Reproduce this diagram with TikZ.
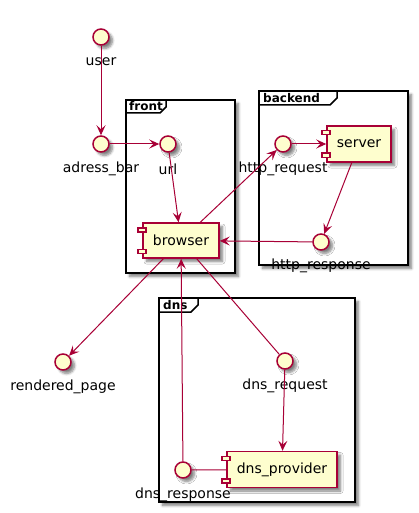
\documentclass[tikz,border=0pt]{standalone}
\usepackage{fontspec}
\setmainfont{DejaVu Sans}
\usetikzlibrary{arrows.meta,shadows,shadows.blur}
\definecolor{pBorder}{HTML}{A80036}
\definecolor{pFill}{HTML}{FEFECE}
\begin{document}
\begin{tikzpicture}[x=1pt,y=-1pt,
  font=\fontsize{14}{16}\selectfont,
  shd/.style={blur shadow={shadow xshift=3.5pt,shadow yshift=-3.5pt,shadow blur radius=2.5pt,shadow blur steps=6,shadow opacity=50}},
  iface/.style={circle,draw=pBorder,fill=pFill,line width=1.5pt,minimum size=16pt,inner sep=0pt,shd},
  comp/.style={rectangle,draw=pBorder,fill=pFill,line width=1.5pt,inner sep=0pt,minimum height=36pt,shd},
  comprect/.style={draw=pBorder,fill=pFill,line width=1.5pt},
  frm/.style={rectangle,draw=black,fill=white,line width=1.5pt,inner sep=0pt,outer sep=0pt,anchor=north west,shd},
  tabline/.style={draw=black,line width=1.5pt},
  ttl/.style={font=\bfseries\fontsize{12}{14}\selectfont,anchor=west,inner sep=0pt},
  lbl/.style={inner sep=0pt},
  edge/.style={draw=pBorder,line width=1pt},
  arr/.style={edge,-{Stealth[length=10pt,width=9pt,inset=4pt]}}
]
\useasboundingbox (0,0) rectangle (418,513);

% frames
\node[frm,minimum width=109pt,minimum height=173pt] (front) at (126,100) {};
\draw[tabline] ([yshift=-13pt]front.north west) -- ++(34,0) -- ++(6,-6) -- ++(0,-7);
\node[ttl] (frontT) at ([xshift=3pt,yshift=-6.5pt]front.north west) {front};

\node[frm,minimum width=149pt,minimum height=174pt] (backend) at (259,91) {};
\draw[tabline] ([yshift=-14pt]backend.north west) -- ++(71,0) -- ++(7,-7) -- ++(0,-7);
\node[ttl] (backendT) at ([xshift=4pt,yshift=-7pt]backend.north west) {backend};

\node[frm,minimum width=196pt,minimum height=204pt] (dns) at (159,298) {};
\draw[tabline] ([yshift=-14pt]dns.north west) -- ++(32,0) -- ++(7,-7) -- ++(0,-7);
\node[ttl] (dnsT) at ([xshift=4pt,yshift=-7pt]dns.north west) {dns};

% interfaces
\node[iface] (user) at (101,37) {};
\node[iface] (adressbar) at (101,144) {};
\node[iface] (url) at (168,144) {};
\node[iface] (httpreq) at (283,144) {};
\node[iface] (httpresp) at (321,242) {};
\node[iface] (rendered) at (63,362) {};
\node[iface] (dnsreq) at (285,361) {};
\node[iface] (dnsresp) at (183,470) {};

% components
\node[comp,minimum width=76pt,minimum height=35pt] (browser) at (181,240.5) {browser};
\node[comp,minimum width=64pt] (server) at (359,144) {server};
\node[comp,minimum width=110pt] (dnsprov) at (282,469.5) {dns\_provider};
\foreach \c in {browser,server,dnsprov}{
  \draw[comprect] ([xshift=-4.5pt,yshift=-5.5pt]\c.north west) rectangle ++(8,4);
  \draw[comprect] ([xshift=-4.5pt,yshift=5.5pt]\c.south west) rectangle ++(8,-4);
}

% labels
\node[lbl] (userL) at ([yshift=-25pt]user.center) {user};
\node[lbl] (adressbarL) at ([yshift=-25pt]adressbar.center) {adress\_bar};
\node[lbl] (urlL) at ([yshift=-25pt]url.center) {url};
\node[lbl] (httpreqL) at ([yshift=-25pt]httpreq.center) {http\_request};
\node[lbl] (httprespL) at ([yshift=-24pt]httpresp.center) {http\_response};
\node[lbl] (renderedL) at ([yshift=-25pt]rendered.center) {rendered\_page};
\node[lbl] (dnsreqL) at ([yshift=-25pt]dnsreq.center) {dns\_request};
\node[lbl] (dnsrespL) at ([yshift=-25pt]dnsresp.center) {dns\_response};

% connectors
\draw[arr] (user) -- (adressbar);
\draw[arr] (adressbar) -- (url);
\draw[arr] (url) -- (browser);
\draw[arr] (browser) -- (httpreq);
\draw[arr] (httpreq) -- (server);
\draw[arr] (server) -- (httpresp);
\draw[arr] (httpresp) -- (browser);
\draw[arr] (browser) -- (rendered);
\draw[arr] (dnsresp) -- (browser);
\draw[edge] (browser) -- (dnsreq);
\draw[arr] (dnsreq) -- (dnsprov);
\draw[edge] (dnsresp) -- (dnsprov);
\end{tikzpicture}
\end{document}
